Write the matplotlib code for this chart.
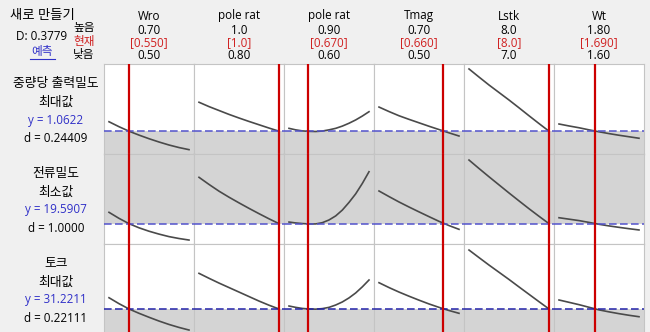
import matplotlib
matplotlib.use("Agg")
import matplotlib.pyplot as plt
from matplotlib.lines import Line2D

plt.rcParams['font.family'] = ['Open Sans', 'Noto Sans CJK KR', 'DejaVu Sans']

# factors (columns)
factor_names = ["Wro", "pole rat", "pole rat", "Tmag", "Lstk", "Wt"]
factor_high = [0.70, 1.0, 0.90, 0.70, 8.0, 1.80]
factor_low = [0.50, 0.80, 0.60, 0.50, 7.0, 1.60]
factor_cur = [0.550, 1.0, 0.670, 0.660, 8.0, 1.690]
high_labels = ["0.70", "1.0", "0.90", "0.70", "8.0", "1.80"]
low_labels = ["0.50", "0.80", "0.60", "0.50", "7.0", "1.60"]
cur_labels = ["[0.550]", "[1.0]", "[0.670]", "[0.660]", "[8.0]", "[1.690]"]

# responses (rows)
resp_names = ["중량당 출력밀도", "전류밀도", "토크"]
resp_goals = ["최대값", "최소값", "최대값"]
resp_y = [1.0622, 19.5907, 31.2211]
resp_y_labels = ["y = 1.0622", "y = 19.5907", "y = 31.2211"]
resp_d_labels = ["d = 0.24409", "d = 1.0000", "d = 0.22111"]
composite_d = "D: 0.3779"

# x grid for each factor curve
wro_x = [0.500, 0.525, 0.550, 0.575, 0.600, 0.625, 0.650, 0.675, 0.700]
pr1_x = [0.800, 0.825, 0.850, 0.875, 0.900, 0.925, 0.950, 0.975, 1.000]
pr2_x = [0.600, 0.625, 0.650, 0.675, 0.700, 0.725, 0.750, 0.775, 0.800, 0.825, 0.850, 0.875, 0.900]
tmag_x = [0.500, 0.525, 0.550, 0.575, 0.600, 0.625, 0.650, 0.675, 0.700]
lstk_x = [7.000, 7.125, 7.250, 7.375, 7.500, 7.625, 7.750, 7.875, 8.000]
wt_x = [1.600, 1.625, 1.650, 1.675, 1.700, 1.725, 1.750, 1.775, 1.800]
curve_x = [wro_x, pr1_x, pr2_x, tmag_x, lstk_x, wt_x]

# row 1: 중량당 출력밀도
r1_wro = [1.125, 1.092, 1.062, 1.036, 1.012, 0.990, 0.970, 0.953, 0.939]
r1_pr1 = [1.255, 1.226, 1.200, 1.174, 1.150, 1.127, 1.105, 1.083, 1.062]
r1_pr2 = [1.081, 1.071, 1.064, 1.061, 1.060, 1.063, 1.071, 1.081, 1.096, 1.115, 1.137, 1.163, 1.192]
r1_tmag = [1.223, 1.193, 1.165, 1.141, 1.118, 1.095, 1.073, 1.051, 1.030]
r1_lstk = [1.477, 1.423, 1.370, 1.320, 1.270, 1.218, 1.165, 1.113, 1.062]
r1_wt = [1.110, 1.097, 1.085, 1.071, 1.058, 1.046, 1.035, 1.025, 1.015]

# row 2: 전류밀도
r2_wro = [20.85, 20.18, 19.59, 19.13, 18.75, 18.43, 18.15, 17.94, 17.77]
r2_pr1 = [24.74, 23.95, 23.20, 22.53, 21.90, 21.29, 20.70, 20.13, 19.59]
r2_pr2 = [19.77, 19.67, 19.60, 19.56, 19.56, 19.70, 20.00, 20.45, 21.10, 21.95, 22.90, 24.06, 25.36]
r2_tmag = [23.22, 22.60, 22.00, 21.44, 20.90, 20.37, 19.85, 19.38, 18.96]
r2_lstk = [26.66, 25.72, 24.80, 23.90, 23.00, 22.12, 21.25, 20.41, 19.59]
r2_wt = [20.25, 20.09, 19.93, 19.73, 19.52, 19.34, 19.18, 19.03, 18.89]

# row 3: 토크
r3_wro = [32.47, 31.81, 31.22, 30.74, 30.30, 29.88, 29.50, 29.17, 28.88]
r3_pr1 = [35.18, 34.63, 34.10, 33.60, 33.10, 32.60, 32.10, 31.64, 31.22]
r3_pr2 = [31.55, 31.40, 31.28, 31.22, 31.20, 31.26, 31.40, 31.66, 32.00, 32.45, 33.00, 33.68, 34.44]
r3_tmag = [34.14, 33.60, 33.10, 32.64, 32.20, 31.78, 31.40, 31.05, 30.74]
r3_lstk = [37.77, 36.93, 36.10, 35.30, 34.50, 33.67, 32.85, 32.03, 31.22]
r3_wt = [32.22, 31.96, 31.70, 31.41, 31.12, 30.90, 30.70, 30.52, 30.36]

curves = [
    [r1_wro, r1_pr1, r1_pr2, r1_tmag, r1_lstk, r1_wt],
    [r2_wro, r2_pr1, r2_pr2, r2_tmag, r2_lstk, r2_wt],
    [r3_wro, r3_pr1, r3_pr2, r3_tmag, r3_lstk, r3_wt],
]

# axis limits for each row (unlabelled in the original)
row_ylim = [(0.91, 1.51), (17.33, 27.33), (28.44, 38.44)]
shade_below = [True, False, True]
dash_colors = ["#5252cc", "#5252cc", "#2323a8"]

W, H = 650, 332
fig = plt.figure(figsize=(W / 100, H / 100), dpi=100)
fig.patch.set_facecolor("#f0f0f0")


def fx(x):
    return x / W


def fy(y):
    return 1 - y / H


grid_left, grid_top, cell = 104, 64, 90
fs = 8.4
fs_kr = 9.2

# header texts
fig.text(fx(75), fy(16), "새로 만들기", ha="right", va="center", fontsize=9.6)
fig.text(fx(42), fy(36), composite_d, ha="center", va="center", fontsize=fs)
fig.text(fx(42), fy(52), "예측", ha="center", va="center", fontsize=fs, color="#3030c8")
fig.add_artist(Line2D([fx(30), fx(55)], [fy(59), fy(59)], color="#3030c8", lw=0.8))
fig.text(fx(84), fy(28), "높음", ha="center", va="center", fontsize=8.4)
fig.text(fx(84), fy(42), "현재", ha="center", va="center", fontsize=8.4, color="#d02020")
fig.text(fx(84), fy(54), "낮음", ha="center", va="center", fontsize=8.4)

for j in range(6):
    cx = grid_left + cell * j + cell / 2
    fig.text(fx(cx), fy(16), factor_names[j], ha="center", va="center", fontsize=fs)
    fig.text(fx(cx), fy(30), high_labels[j], ha="center", va="center", fontsize=fs)
    fig.text(fx(cx), fy(43), cur_labels[j], ha="center", va="center", fontsize=fs, color="#d02020")
    fig.text(fx(cx), fy(55.5), low_labels[j], ha="center", va="center", fontsize=fs)

for i in range(3):
    top = grid_top + cell * i
    fig.text(fx(56), fy(top + 20), resp_names[i], ha="center", va="center", fontsize=fs_kr)
    fig.text(fx(56), fy(top + 38), resp_goals[i], ha="center", va="center", fontsize=fs_kr)
    fig.text(fx(56), fy(top + 56), resp_y_labels[i], ha="center", va="center", fontsize=fs, color="#3030c8")
    fig.text(fx(56), fy(top + 74), resp_d_labels[i], ha="center", va="center", fontsize=fs)

    lo, hi = row_ylim[i]
    for j in range(6):
        left = grid_left + cell * j
        ax = fig.add_axes([fx(left), fy(top + cell), cell / W, cell / H])
        ax.set_facecolor("white")
        rng = factor_high[j] - factor_low[j]
        pad = rng * 5 / 80
        ax.set_xlim(factor_low[j] - pad, factor_high[j] + pad)
        ax.set_ylim(lo, hi)
        if shade_below[i]:
            ax.axhspan(lo, resp_y[i], color="#d4d4d4", lw=0, zorder=0)
        else:
            ax.axhspan(resp_y[i], hi, color="#d4d4d4", lw=0, zorder=0)
        ax.plot(curve_x[j], curves[i][j], color="#4a4a4a", lw=1.2, zorder=2)
        ax.axhline(resp_y[i], color=dash_colors[i], lw=1.1, dashes=(5, 2.2), zorder=3)
        ax.axvline(factor_cur[j], color="#cc0000", lw=1.6, zorder=4)
        ax.set_xticks([])
        ax.set_yticks([])
        for s in ax.spines.values():
            s.set_color("#c4c4c4")
            s.set_linewidth(0.8)

fig.savefig("out.png", dpi=100, facecolor=fig.get_facecolor())
